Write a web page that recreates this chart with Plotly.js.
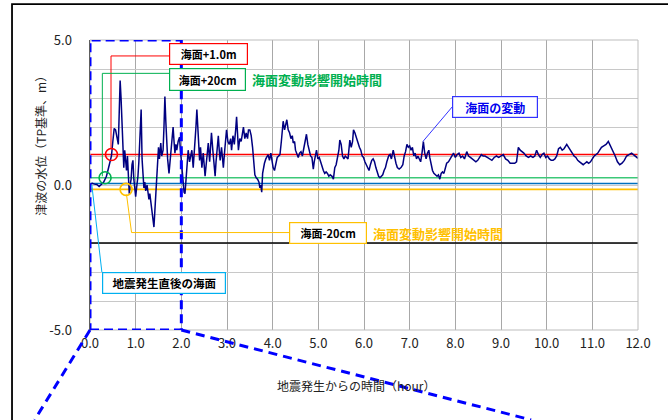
<!DOCTYPE html>
<html>
<head>
<meta charset="utf-8">
<script src="https://cdn.plot.ly/plotly-3.0.1.min.js"></script>
<style>html,body{margin:0;padding:0;background:#fff;}#chart{width:668px;height:420px;}</style>
</head>
<body>
<div id="chart"></div>
<script>
// ---- data ----
const timeH = [0.0,0.05,0.1,0.15,0.2,0.23,0.27,0.3,0.33,0.36,0.4,0.44,0.47,0.5,0.53,0.56,0.59,0.62,0.64,0.66,0.68,0.7,0.72,0.74,0.76,0.78,0.8,0.82,0.84,0.86,0.88,0.9,0.92,0.94,0.96,0.98,1.0,1.02,1.05,1.07,1.09,1.11,1.12,1.14,1.16,1.18,1.2,1.22,1.25,1.27,1.29,1.31,1.33,1.36,1.38,1.4,1.42,1.44,1.46,1.48,1.5,1.52,1.55,1.57,1.6,1.62,1.64,1.66,1.68,1.7,1.73,1.75,1.78,1.8,1.82,1.84,1.86,1.88,1.9,1.93,1.96,1.98,2.0,2.02,2.04,2.06,2.08,2.1,2.12,2.15,2.18,2.21,2.23,2.26,2.28,2.3,2.32,2.34,2.36,2.38,2.4,2.42,2.45,2.48,2.5,2.52,2.55,2.57,2.59,2.62,2.64,2.66,2.69,2.72,2.74,2.76,2.78,2.81,2.83,2.85,2.88,2.9,2.92,2.95,2.97,2.99,3.02,3.05,3.08,3.1,3.13,3.16,3.19,3.21,3.23,3.25,3.28,3.31,3.34,3.36,3.39,3.42,3.45,3.47,3.5,3.53,3.56,3.58,3.61,3.64,3.67,3.7,3.72,3.74,3.76,3.78,3.8,3.82,3.85,3.88,3.9,3.93,3.96,3.99,4.01,4.04,4.07,4.1,4.13,4.16,4.19,4.21,4.23,4.26,4.29,4.31,4.34,4.37,4.4,4.43,4.45,4.48,4.5,4.53,4.56,4.59,4.62,4.65,4.68,4.71,4.74,4.77,4.8,4.83,4.86,4.89,4.91,4.94,4.96,4.99,5.02,5.05,5.08,5.11,5.14,5.17,5.2,5.23,5.26,5.3,5.33,5.36,5.39,5.42,5.45,5.47,5.5,5.53,5.56,5.59,5.62,5.65,5.69,5.72,5.75,5.77,5.8,5.83,5.86,5.9,5.93,5.96,5.99,6.02,6.05,6.08,6.11,6.14,6.17,6.2,6.23,6.26,6.29,6.32,6.35,6.38,6.41,6.44,6.47,6.5,6.54,6.57,6.6,6.64,6.67,6.7,6.73,6.77,6.81,6.85,6.88,6.91,6.94,6.97,7.0,7.03,7.06,7.09,7.12,7.15,7.18,7.21,7.24,7.27,7.3,7.33,7.36,7.39,7.42,7.44,7.47,7.5,7.53,7.56,7.6,7.63,7.66,7.69,7.72,7.75,7.78,7.81,7.85,7.89,7.93,7.96,8.0,8.04,8.08,8.12,8.16,8.2,8.25,8.29,8.33,8.37,8.41,8.45,8.49,8.53,8.57,8.61,8.65,8.7,8.75,8.8,8.85,8.9,8.95,9.0,9.05,9.1,9.15,9.2,9.25,9.3,9.34,9.38,9.42,9.46,9.5,9.55,9.6,9.65,9.7,9.74,9.78,9.82,9.86,9.9,9.94,9.98,10.02,10.06,10.1,10.14,10.18,10.22,10.26,10.3,10.34,10.38,10.44,10.48,10.52,10.56,10.6,10.64,10.68,10.72,10.76,10.8,10.84,10.88,10.92,10.96,11.0,11.04,11.08,11.12,11.16,11.2,11.25,11.3,11.35,11.4,11.45,11.5,11.55,11.6,11.65,11.7,11.75,11.8,11.86,11.9,11.95,12.0];
const levelM = [0.03,0.06,0.03,0.02,-0.05,-0.02,0.05,0.1,0.2,0.3,0.55,0.8,1.0,1.5,1.95,1.9,1.6,1.4,2.5,3.6,3.0,2.0,0.9,0.6,1.2,0.9,0.5,1.0,0.3,-0.3,0.0,0.2,0.7,0.85,0.2,-0.1,-0.4,-0.1,0.3,0.8,1.4,2.2,2.6,0.9,0.2,-0.1,0.1,-0.2,0.0,-0.3,-0.5,-0.3,-0.6,-0.9,-1.1,-1.45,-0.9,-0.3,0.3,0.8,1.3,0.9,1.45,1.0,1.2,2.0,3.05,2.2,1.4,0.9,0.4,0.8,1.45,1.7,2.0,1.5,1.1,1.4,1.2,1.5,1.65,1.2,0.86,0.4,0.17,-0.25,-0.3,0.1,0.5,1.2,0.8,1.0,1.2,0.6,1.0,1.45,2.0,2.6,2.0,1.3,0.85,1.3,0.6,1.1,0.6,0.3,0.8,1.1,1.45,0.8,1.3,1.8,1.2,0.6,0.3,0.8,1.3,1.7,1.2,0.85,1.3,0.9,0.6,1.2,1.5,1.9,1.5,1.4,1.6,1.2,1.7,1.4,1.9,2.35,1.8,1.2,1.6,1.5,1.8,2.0,1.6,1.8,1.6,1.9,1.9,1.7,1.3,1.0,0.35,0.25,0.2,0.1,-0.1,0.0,-0.25,0.4,0.6,0.75,0.9,1.0,1.05,0.85,1.1,0.8,0.6,0.5,0.8,0.95,1.0,1.05,1.5,2.0,2.2,1.9,2.1,2.25,1.9,1.8,1.6,1.7,1.45,1.5,1.2,1.05,0.95,1.1,1.15,1.0,1.3,1.5,1.75,1.4,1.2,1.0,0.95,0.55,0.8,1.1,1.2,0.9,0.95,0.8,0.6,0.5,0.4,0.45,0.4,0.3,0.35,0.3,0.2,0.6,0.7,0.9,1.2,1.55,1.4,1.0,0.9,1.0,0.95,0.9,1.55,1.3,1.5,1.9,1.8,1.6,1.5,1.3,1.2,1.0,0.95,0.8,0.7,0.6,0.5,0.7,0.85,0.9,0.8,0.6,0.4,0.3,0.25,0.3,0.35,0.5,0.6,0.8,1.0,1.05,0.9,1.2,0.9,0.75,0.6,0.55,0.6,0.7,1.0,1.15,1.4,1.3,1.35,1.2,1.3,1.0,1.1,0.9,1.0,0.9,0.8,1.1,1.5,1.1,0.9,1.1,1.2,0.95,0.7,0.5,0.4,0.35,0.3,0.35,0.2,0.4,0.45,0.4,0.6,0.75,0.8,0.9,1.0,1.1,0.95,1.05,1.1,0.95,1.0,0.9,1.15,1.0,0.95,0.9,0.85,0.8,0.85,0.95,1.05,1.0,1.0,0.95,0.9,0.85,0.95,1.0,0.95,1.0,1.05,0.9,0.85,0.75,0.75,0.75,0.8,1.3,1.2,1.15,1.1,1.0,0.95,1.0,0.95,1.0,1.2,1.05,0.95,1.05,1.1,0.95,1.0,0.9,0.85,0.85,0.9,1.0,1.25,1.3,1.2,1.25,1.4,1.3,1.2,1.1,1.0,0.95,0.85,0.8,0.75,0.7,0.75,0.8,0.75,0.8,0.9,1.0,1.05,1.1,1.2,1.3,1.35,1.4,1.5,1.35,1.2,1.0,0.8,0.7,0.75,0.85,1.0,1.05,1.1,1.05,1.0,0.92];

// reference sea levels (m): +1.0m, +20cm, base, -20cm, -2.0
const refLevels = [1.05, 0.25, 0.05, -0.15, -2.0];
const refColors = ['#FF0000', '#3CC878', '#0070C0', '#FFC000', '#000000'];
// start-of-influence crossing points
const crossT = [0.47, 0.33, 0.79];
const crossV = [1.05, 0.25, -0.15];
const crossColors = ['#FF0000', '#00B050', '#FFC000'];

const xTickVals = [0,1,2,3,4,5,6,7,8,9,10,11,12];
const xTickText = ['0.0','1.0','2.0','3.0','4.0','5.0','6.0','7.0','8.0','9.0','10.0','11.0','12.0'];
const yTickVals = [-5,-4,-3,-2,-1,0,1,2,3,4,5];
const yTickText = ['-5.0','','','','','0.0','','','','','5.0'];
const xRange = [0, 12];

// ---- traces ----
const traces = [];
refLevels.forEach((v, i) => {
  traces.push({x: xRange, y: [v, v], mode: 'lines', line: {color: refColors[i], width: i === 4 ? 1.5 : 1.6}, hoverinfo: 'skip', showlegend: false});
});
traces.push({x: timeH, y: levelM, mode: 'lines', line: {color: '#000080', width: 1.5}, showlegend: false});
traces.push({x: crossT, y: crossV, mode: 'markers', marker: {symbol: 'circle-open', size: 12, color: crossColors, line: {width: 1.6, color: crossColors}}, showlegend: false});

const JP = '"Noto Sans CJK JP", sans-serif';
const boxFont = (c, s) => ({family: JP, size: s || 11, color: c, weight: 'bold'});

const layout = {
  width: 668, height: 420,
  margin: {l: 90, r: 30, t: 40, b: 90},
  paper_bgcolor: '#ffffff', plot_bgcolor: '#ffffff',
  xaxis: {
    range: xRange, tickvals: xTickVals, ticktext: xTickText,
    showgrid: true, gridcolor: '#a8a8a8', gridwidth: 1,
    zeroline: false, showline: false, ticks: '',
    tickfont: {family: JP, size: 13, color: '#222'}, ticklabelstandoff: 4
  },
  yaxis: {
    range: [-5, 5], tickvals: yTickVals, ticktext: yTickText,
    showgrid: true, gridcolor: '#c8c8c8', gridwidth: 1,
    zeroline: false, showline: true, linecolor: '#000', linewidth: 1.5, ticks: '',
    tickfont: {family: JP, size: 13, color: '#222'}, ticklabelstandoff: 14
  },
  shapes: [
    {type: 'rect', xref: 'paper', yref: 'paper', x0: 0, x1: 1, y0: 0, y1: 1, line: {color: '#bdbdbd', width: 1}},
    {type: 'path', xref: 'paper', yref: 'paper', path: 'M -0.1423,-0.35 L -0.1423,1.124 L 1.1,1.124', line: {color: '#000', width: 1.8}},
    {type: 'rect', xref: 'x', yref: 'y', x0: 0, x1: 2, y0: -5, y1: 5, line: {color: '#0000FF', width: 3, dash: '9px,5px'}},
    {type: 'line', xref: 'paper', yref: 'paper', x0: 0, y0: 0, x1: -0.101, y1: -0.31, line: {color: '#0000FF', width: 3, dash: '9px,6px'}},
    {type: 'line', xref: 'paper', yref: 'paper', x0: 2/12, y0: 0, x1: 0.805, y1: -0.31, line: {color: '#0000FF', width: 3, dash: '9px,6px'}},
    {type: 'path', xref: 'x', yref: 'y', path: 'M 0.46,1.25 L 0.46,4.45 L 1.73,4.45', line: {color: '#FF0000', width: 1}},
    {type: 'path', xref: 'x', yref: 'y', path: 'M 0.27,0.3 L 0.27,3.85 L 1.73,3.85', line: {color: '#00B050', width: 1}},
    {type: 'path', xref: 'x', yref: 'y', path: 'M 0.8,-0.33 L 0.91,-1.64 L 4.36,-1.64', line: {color: '#FFC000', width: 1}},
    {type: 'line', xref: 'x', yref: 'y', x0: 0.04, y0: 0.0, x1: 0.26, y1: -3.0, line: {color: '#00B0F0', width: 1}},
    {type: 'line', xref: 'x', yref: 'y', x0: 7.29, y0: 1.5, x1: 7.93, y1: 2.69, line: {color: '#3333FF', width: 1}}
  ],
  annotations: [
    {x: 2.6, y: 4.52, xref: 'x', yref: 'y', text: '海面+1.0m', showarrow: false, font: boxFont('#000'), bgcolor: '#fff', bordercolor: '#FF0000', borderwidth: 1.2, borderpad: 2, width: 73, height: 16},
    {x: 2.57, y: 3.64, xref: 'x', yref: 'y', text: '海面+20cm', showarrow: false, font: boxFont('#000'), bgcolor: '#fff', bordercolor: '#00B050', borderwidth: 1.2, borderpad: 2, width: 71, height: 17},
    {x: 3.5, y: 3.64, xref: 'x', yref: 'y', xanchor: 'left', text: '海面変動影響開始時間', showarrow: false, font: boxFont('#00B050', 13)},
    {x: 8.87, y: 2.69, xref: 'x', yref: 'y', text: '海面の変動', showarrow: false, font: boxFont('#0000EE', 12), bgcolor: '#fff', bordercolor: '#3333FF', borderwidth: 1.2, borderpad: 2, width: 80, height: 16},
    {x: 5.21, y: -1.66, xref: 'x', yref: 'y', text: '海面-20cm', showarrow: false, font: boxFont('#000'), bgcolor: '#fff', bordercolor: '#FFC000', borderwidth: 1.2, borderpad: 2, width: 72, height: 16},
    {x: 6.15, y: -1.66, xref: 'x', yref: 'y', xanchor: 'left', text: '海面変動影響開始時間', showarrow: false, font: boxFont('#FFC000', 13)},
    {x: 1.62, y: -3.38, xref: 'x', yref: 'y', text: '地震発生直後の海面', showarrow: false, font: boxFont('#000', 11.5), bgcolor: '#fff', bordercolor: '#00B0F0', borderwidth: 1.2, borderpad: 2, width: 118, height: 16},
    {x: -0.109, y: 0.645, xref: 'paper', yref: 'paper', text: '津波の水位（TP基準、m）', textangle: -90, showarrow: false, font: {family: JP, size: 12, color: '#222'}},
    {x: 0.487, y: -0.228, xref: 'paper', yref: 'paper', text: '地震発生からの時間（hour）', showarrow: false, font: {family: JP, size: 12, color: '#222'}}
  ]
};

Plotly.newPlot('chart', traces, layout, {staticPlot: true, displayModeBar: false});
</script>
</body>
</html>
